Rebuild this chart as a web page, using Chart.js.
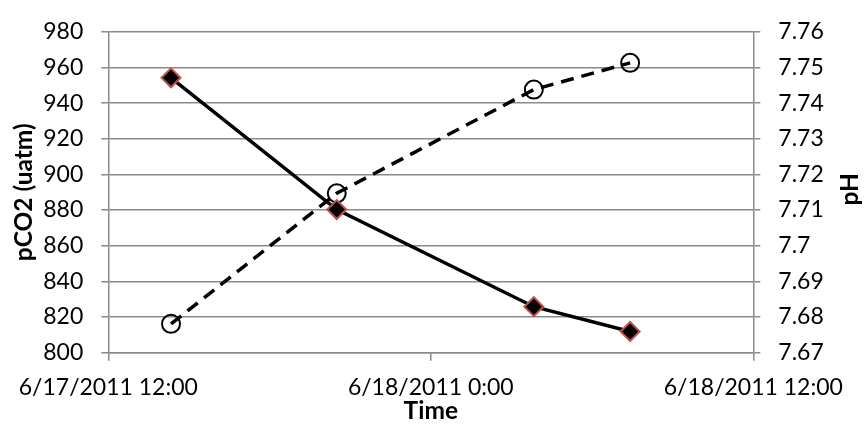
<!DOCTYPE html>
<html><head><meta charset="utf-8">
<script src="https://cdn.jsdelivr.net/npm/chart.js@4/dist/chart.umd.min.js"></script>
<style>html,body{margin:0;padding:0;background:#fff;} #wrap{width:866px;height:430px;position:relative;}</style>
</head><body><div id="wrap"><canvas id="c" width="866" height="430"></canvas></div>
<script>
// ---- data ----
const sampleTimes = ["6/17/2011 14:20", "6/17/2011 20:30", "6/18/2011 3:50", "6/18/2011 7:25"];
const pco2Values = [954.2, 880.3, 825.8, 811.9];
const phValues = [7.6781, 7.7147, 7.7438, 7.7513];
const xTickLabels = ["6/17/2011 12:00", "6/18/2011 0:00", "6/18/2011 12:00"];
const pco2Axis = [800, 980, 20];
const phAxis = [7.67, 7.76, 0.01];
const leftTitle = "pCO2 (uatm)";
const rightTitle = "pH";
const bottomTitle = "Time";

function toMs(s){
  const [d,t] = s.split(' ');
  const [m,day,y] = d.split('/').map(Number);
  const [h,mi] = t.split(':').map(Number);
  return Date.UTC(y, m-1, day, h, mi);
}
const xMin = toMs(xTickLabels[0]);
const xMax = toMs(xTickLabels[xTickLabels.length-1]);

const FONT = 'Lato';
const GRID = '#8a8a8a';

const axisTitles = {
  id: 'axisTitles',
  afterDraw(chart){
    const {ctx, chartArea:a} = chart;
    const cy = (a.top + a.bottom)/2;
    ctx.save();
    ctx.font = 'bold 24.5px ' + FONT;
    ctx.fillStyle = '#000';
    ctx.textAlign = 'center';
    ctx.textBaseline = 'middle';
    ctx.save(); ctx.translate(24, cy); ctx.rotate(-Math.PI/2); ctx.fillText(leftTitle, 0, 0); ctx.restore();
    ctx.save(); ctx.translate(850, cy - 3); ctx.rotate(-Math.PI/2); ctx.fillText(rightTitle, 0, 0); ctx.restore();
    ctx.fillText(bottomTitle, (a.left + a.right)/2, 411);
    ctx.restore();
  }
};

function draw(){
  new Chart(document.getElementById('c'), {
    type: 'line',
    data: {
      datasets: [
        {
          label: 'pCO2',
          data: sampleTimes.map((t,i)=>({x: toMs(t), y: pco2Values[i]})),
          yAxisID: 'y',
          borderColor: '#000',
          borderWidth: 3.5,
          pointStyle: 'rectRot',
          pointRadius: 9.5,
          pointBorderWidth: 2,
          pointBackgroundColor: '#000',
          pointBorderColor: '#C0504D',
          tension: 0
        },
        {
          label: 'pH',
          data: sampleTimes.map((t,i)=>({x: toMs(t), y: phValues[i]})),
          yAxisID: 'y1',
          borderColor: '#000',
          borderWidth: 3.5,
          borderDash: [13, 8],
          pointStyle: 'circle',
          pointRadius: 9,
          pointBorderWidth: 2,
          pointBackgroundColor: 'rgba(0,0,0,0)',
          pointBorderColor: '#000',
          tension: 0
        }
      ]
    },
    options: {
      responsive: false,
      animation: false,
      events: [],
      layout: { padding: { top: 20, left: 0, right: 0, bottom: 0 } },
      plugins: { legend: { display: false }, tooltip: { enabled: false }, title: { display: false } },
      scales: {
        x: {
          type: 'linear',
          min: xMin, max: xMax,
          afterFit(s){ s.height = 77.3; },
          afterBuildTicks(s){ s.ticks = xTickLabels.map(l => ({value: toMs(l)})); },
          ticks: {
            callback: (v, i) => xTickLabels[i],
            font: { family: FONT, size: 23 }, color: '#000',
            padding: 13, maxRotation: 0, autoSkip: false
          },
          grid: { drawOnChartArea: false, drawTicks: true, tickLength: 8, color: GRID, lineWidth: 1.5 },
          border: { display: true, color: GRID, width: 1.5 }
        },
        y: {
          position: 'left',
          min: pco2Axis[0], max: pco2Axis[1],
          afterFit(s){ s.width = 108.3; },
          ticks: { stepSize: pco2Axis[2], font: { family: FONT, size: 23 }, color: '#000', padding: 18 },
          grid: { color: GRID, lineWidth: 1.5, tickLength: 7 },
          border: { display: true, color: GRID, width: 1.5 }
        },
        y1: {
          position: 'right',
          min: phAxis[0], max: phAxis[1],
          afterFit(s){ s.width = 112.7; },
          ticks: { stepSize: phAxis[2], font: { family: FONT, size: 23 }, color: '#000', padding: 18,
                   callback: v => String(+v.toFixed(2)) },
          grid: { drawOnChartArea: false, color: GRID, lineWidth: 1.5, tickLength: 7 },
          border: { display: true, color: GRID, width: 1.5 }
        }
      }
    },
    plugins: [axisTitles]
  });
}
(document.fonts ? Promise.all([document.fonts.load('23px Lato'), document.fonts.load('bold 23px Lato')]).catch(()=>{}) : Promise.resolve()).then(draw);
</script>
</body></html>
